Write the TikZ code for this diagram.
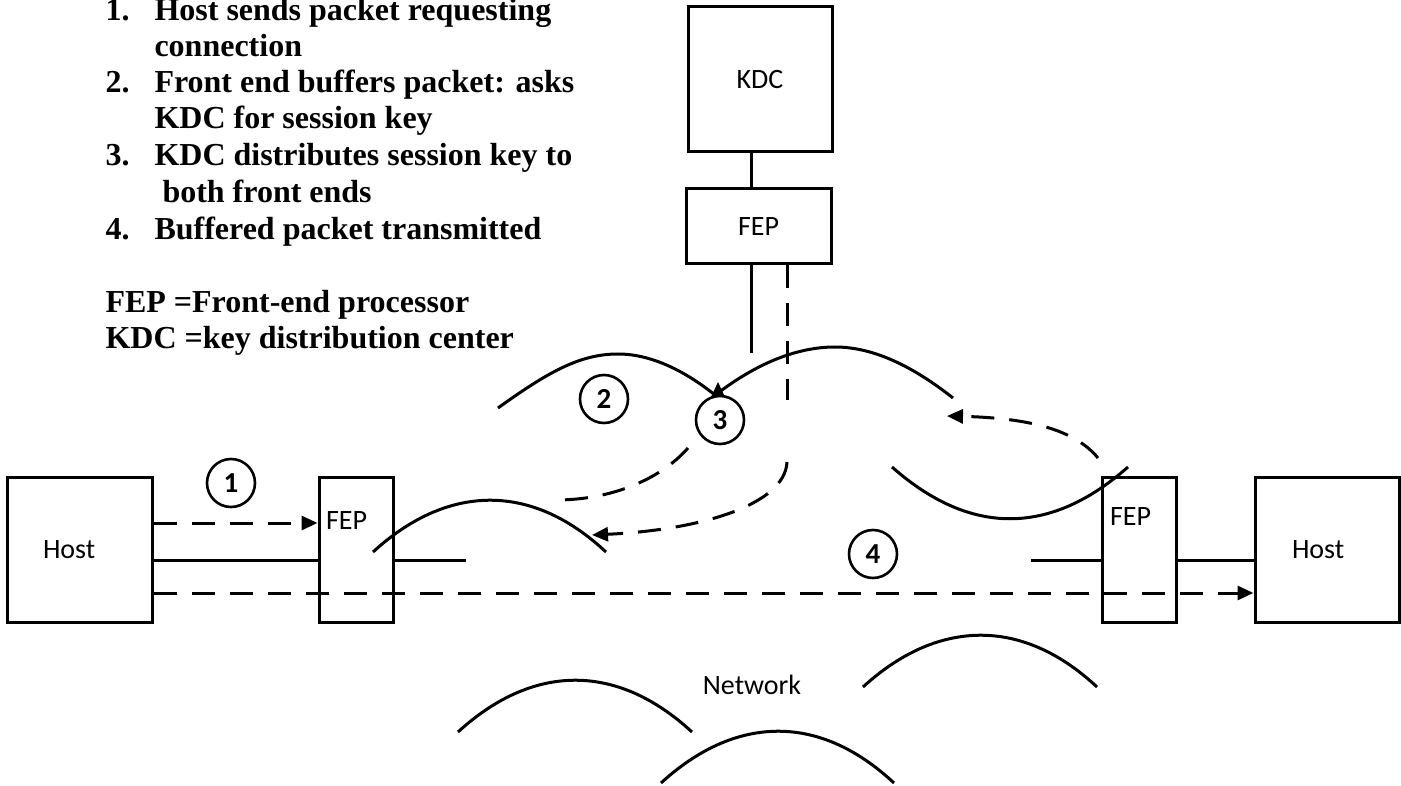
\documentclass[tikz,border=0pt]{standalone}
\usepackage{fontspec}
\setmainfont{Liberation Serif}
\newfontfamily\lblfont{Carlito}
\usetikzlibrary{arrows.meta}

\begin{document}
\begin{tikzpicture}[x=1pt,y=-1pt,line width=3pt,
  unit/.style={draw, line width=3pt, inner sep=0pt, font=\lblfont\fontsize{28}{30}\selectfont},
  lbl/.style={inner sep=0pt, font=\lblfont\fontsize{28}{30}\selectfont},
  stepnum/.style={circle, draw, line width=2.6pt, minimum size=48pt, inner sep=0pt,
    font=\lblfont\bfseries\fontsize{29}{31}\selectfont},
  note/.style={anchor=base west, inner sep=0pt, font=\bfseries\fontsize{32}{36}\selectfont},
  flow/.style={line width=3pt, dash pattern=on 23pt off 15pt},
  tip/.style={-{Triangle[length=16pt,width=14pt]}},
  wire/.style={line width=3pt},
  cloud/.style={line width=3pt}]

\fill[white] (0,0) rectangle (1401,786);
\useasboundingbox (0,0) rectangle (1401,786);

% legend text
\node[note] (n1) at (104,21) {1.};
\node[note] (t1a) at (153,21) {Host sends packet requesting};
\node[note] (t1b) at (153,57) {connection};
\node[note] (n2) at (104,93) {2.};
\node[note] (t2a) at (153,93) {Front end buffers packet: asks};
\node[note] (t2b) at (153,129) {KDC for session key};
\node[note] (n3) at (104,166) {3.};
\node[note] (t3a) at (153,166) {KDC distributes session key to};
\node[note] (t3b) at (161,203) {both front ends};
\node[note] (n4) at (104,240) {4.};
\node[note] (t4a) at (153,240) {Buffered packet transmitted};
\node[note] (d1) at (104,313) {FEP =Front-end processor};
\node[note] (d2) at (104,349) {KDC =key distribution center};

% key distribution centre and its front end
\node[unit, minimum width=144pt, minimum height=145pt] (kdc) at (760,79.5) {KDC};
\node[unit, minimum width=145pt, minimum height=75pt] (fepT) at (758.5,226.5) {FEP};

% hosts and their front ends
\node[unit, minimum height=145pt, inner xsep=36pt, text width=73pt, align=left] (hostL) at (79.5,549.5) {Host};
\node[unit, minimum width=74pt, minimum height=145pt] (fepL) at (356,549.5) {};
\node[lbl, anchor=west] (fepLtxt) at ([xshift=7pt,yshift=-45pt]fepL.north west) {FEP};
\node[unit, minimum width=74pt, minimum height=145pt] (fepR) at (1139,549.5) {};
\node[lbl, anchor=west] (fepRtxt) at ([xshift=8pt,yshift=-41pt]fepR.north west) {FEP};
\node[unit, minimum height=145pt, inner xsep=37pt, text width=70pt, align=left] (hostR) at (1327,549.5) {Host};

% step markers
\node[stepnum] (c1) at (231,483) {1};
\node[stepnum] (c2) at (604,399) {2};
\node[stepnum] (c3) at (720,420) {3};
\node[stepnum] (c4) at (873,554) {4};

\node[lbl] (net) at (752,685) {Network};

% wiring
\draw[wire] ([xshift=-9pt]kdc.south) -- ([xshift=-7.5pt]fepT.north);
\coordinate (kdcLink) at (751,353);
\draw[wire] ([xshift=-7.5pt]fepT.south) -- (kdcLink);
\draw[wire] ([yshift=-10.5pt]hostL.east) -- ([yshift=-10.5pt]fepL.west);
\coordinate (stubL) at (466,560);
\draw[wire] ([yshift=-10.5pt]fepL.east) -- (stubL);
\coordinate (stubR) at (1031,560);
\draw[wire] (stubR) -- ([yshift=-10.5pt]fepR.west);
\draw[wire] ([yshift=-10.5pt]fepR.east) -- ([yshift=-10.5pt]hostR.west);

% network cloud outline
\draw[cloud] (373,552) .. controls (445,486) and (529,480) .. (606,552);
\draw[cloud] (498,408) .. controls (548,372) and (580,354) .. (618,354)
             .. controls (655,354) and (690,375) .. (715,395);
\draw[cloud] (718,393) .. controls (755,365) and (795,347) .. (835,347)
             .. controls (875,347) and (915,368) .. (953,398);
\fill (711,397) -- (718,382) -- (724,395) -- cycle;
\draw[cloud] (892,467) .. controls (970,536) and (1050,536) .. (1128,467);
\draw[cloud] (458,732) .. controls (530,666) and (614,660) .. (692,732);
\draw[cloud] (863,687) .. controls (935,621) and (1020,615) .. (1097,687);
\draw[cloud] (661,783) .. controls (733,717) and (817,711) .. (894,783);

% message flows
\draw[flow, tip] ([yshift=26.5pt]hostL.east) -- ([yshift=26.5pt]fepL.west);
\draw[flow, tip] ([yshift=-43.5pt]hostL.east) -- ([yshift=-43.5pt]hostR.west);
\coordinate (keyDrop) at (787,400);
\draw[flow] ([xshift=28.5pt]fepT.south) -- (keyDrop);
\coordinate (keyA) at (688,448);
\coordinate (keyAend) at (556,500);
\draw[flow] (keyA) .. controls (660,480) and (610,500) .. (keyAend);
\coordinate (keyB) at (787,462);
\coordinate (keyBend) at (592,535);
\draw[flow, tip] (keyB) .. controls (785,505) and (700,530) .. (keyBend);
\coordinate (keyC) at (1098,458);
\coordinate (keyCend) at (947,416);
\draw[flow, tip] (keyC) .. controls (1075,430) and (1030,418) .. (keyCend);
\end{tikzpicture}
\end{document}
